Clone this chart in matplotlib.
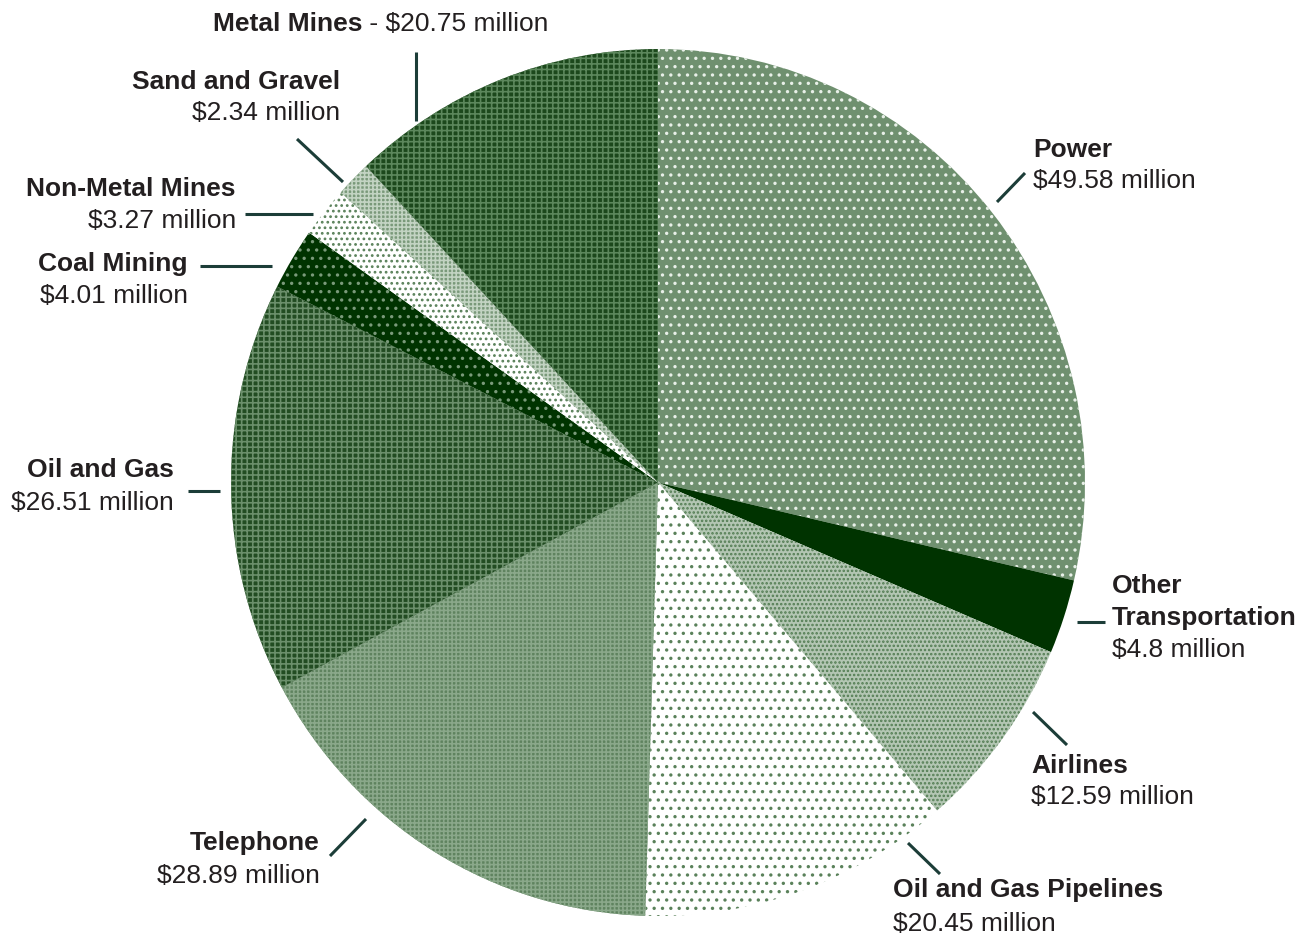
import matplotlib
matplotlib.use('Agg')
import matplotlib.pyplot as plt

# data (clockwise from 12 o'clock)
sectors = ['Power', 'Other\nTransportation', 'Airlines', 'Oil and Gas Pipelines',
           'Telephone', 'Oil and Gas', 'Coal Mining', 'Non-Metal Mines',
           'Sand and Gravel', 'Metal Mines']
values = [49.58, 4.8, 12.59, 20.45, 28.89, 26.51, 4.01, 3.27, 2.34, 20.75]
amounts = ['$49.58 million', '$4.8 million', '$12.59 million', '$20.45 million',
           '$28.89 million', '$26.51 million', '$4.01 million', '$3.27 million',
           '$2.34 million', '$20.75 million']

faces = ['#6f906f', '#003300', '#b3c6b3', '#ffffff', '#5f835f',
         '#224c22', '#003300', '#ffffff', '#7a997a', '#1c481c']
hatchcols = ['#e8f0e8', '#003300', '#527c52', '#5a815a', '#8aa88a',
             '#6b8f6b', '#7a9a7a', '#5a815a', '#c2d3c2', '#5c875c']
hatches = ['..', None, '....', '..', '++++', '+++', '..', '...', '++++', '+++']

plt.rcParams['font.family'] = ['Liberation Sans', 'DejaVu Sans']
plt.rcParams['hatch.linewidth'] = 1.2

W, H = 1308, 937
fig = plt.figure(figsize=(W / 100, H / 100), dpi=100)

# pie axes (scan is slightly taller than wide)
cx, cy, rx, ry = 658, 483.5, 427, 433.5
pax = fig.add_axes([(cx - rx) / W, (H - cy - ry) / H, 2 * rx / W, 2 * ry / H])
wedges, _ = pax.pie(values, startangle=90, counterclock=False, radius=1)
pax.set_aspect('auto')
pax.set_xlim(-1, 1)
pax.set_ylim(-1, 1)
pax.axis('off')
for w, fc, hc, ht in zip(wedges, faces, hatchcols, hatches):
    w.set_facecolor(fc)
    w.set_edgecolor(hc)
    w.set_linewidth(0)
    if ht:
        w.set_hatch(ht)

# overlay axes in pixel coords for labels
ax = fig.add_axes([0, 0, 1, 1])
ax.set_xlim(0, W)
ax.set_ylim(H, 0)
ax.axis('off')
ax.patch.set_alpha(0)

txt = '#231f20'
line = '#1c3d38'
fs = 19

# label placement in pixel coords: (x, y_name, y_amount, ha)
places = {
    'Power': (1033, 150, 181, 'left'),
    'Other\nTransportation': (1112, 586, 650, 'left'),
    'Airlines': (1031, 766, 797, 'left'),
    'Oil and Gas Pipelines': (893, 890, 924, 'left'),
    'Telephone': (320, 843, 876, 'right'),
    'Oil and Gas': (174, 470, 503, 'right'),
    'Coal Mining': (188, 264, 296, 'right'),
    'Non-Metal Mines': (236, 189, 221, 'right'),
    'Sand and Gravel': (340, 82, 113, 'right'),
}
for name, amt in zip(sectors, amounts):
    if name not in places:
        continue
    x0, yn, ya, ha = places[name]
    if '\n' in name:
        a, b = name.split('\n')
        ax.text(x0, yn, a, ha=ha, va='center', fontsize=fs, fontweight='bold', color=txt)
        ax.text(x0, yn + 32, b, ha=ha, va='center', fontsize=fs, fontweight='bold', color=txt)
    else:
        ax.text(x0, yn, name, ha=ha, va='center', fontsize=fs, fontweight='bold', color=txt)
    ax.text(x0, ya, amt, ha=ha, va='center', fontsize=fs, color=txt)

t = ax.text(213, 24, sectors[-1], ha='left', va='center', fontsize=fs, fontweight='bold', color=txt)
ax.annotate(' - ' + amounts[-1], xy=(1, 0.5), xycoords=t, ha='left', va='center',
            fontsize=fs, color=txt)

leaders = [((416, 53), (416, 122)), ((297, 140), (343, 183)), ((245, 215), (313, 215)),
           ((200, 267), (272, 267)), ((188, 492), (220, 492)), ((330, 857), (366, 820)),
           ((908, 844), (940, 875)), ((1033, 713), (1067, 746)), ((1077, 623), (1105, 623)),
           ((997, 203), (1025, 174))]
for (xa, ya_), (xb, yb) in leaders:
    ax.plot([xa, xb], [ya_, yb], color=line, lw=2.2, solid_capstyle='butt')

fig.savefig('out.png', dpi=100)
